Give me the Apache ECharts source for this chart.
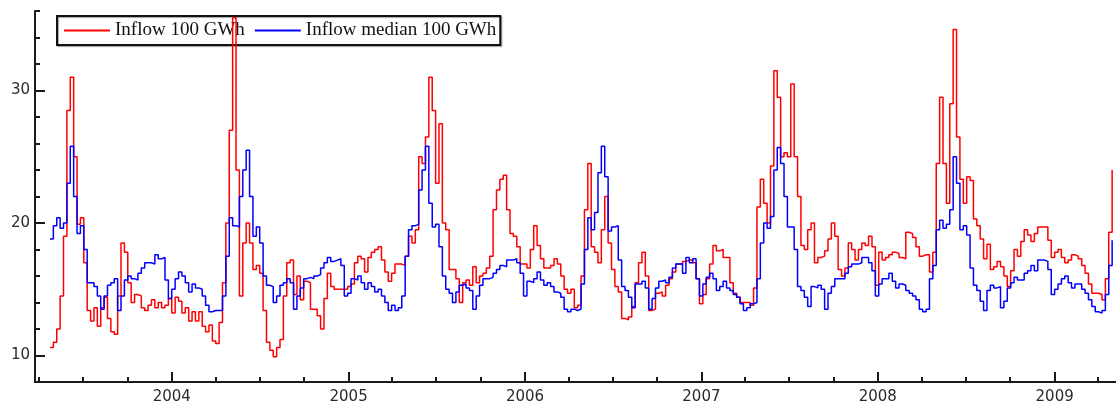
<!DOCTYPE html>
<html>
<head>
<meta charset="utf-8">
<script src="https://cdn.jsdelivr.net/npm/echarts@6/dist/echarts.min.js"></script>
<style>
  html, body { margin: 0; padding: 0; background: #fff; }
  #chart { width: 1116px; height: 407px; }
</style>
</head>
<body>
<div id="chart"></div>
<script>
// Weekly reservoir inflow, in units of 100 GWh, first week starting below
const firstWeek = '2003-04-24';

const inflow = [
  10.6, 11.0, 12.0, 14.5, 19.0, 28.5, 31.0, 25.0, 19.9, 20.4,
  17.0, 13.4, 12.6, 13.6, 12.2, 13.6, 14.4, 12.8, 11.8, 11.6,
  14.5, 18.5, 17.8, 15.5, 14.0, 14.6, 14.5, 13.6, 13.4, 13.8,
  14.2, 13.6, 14.0, 13.6, 13.8, 14.3, 13.2, 14.4, 14.1, 13.2,
  13.6, 12.6, 13.3, 12.6, 13.3, 12.2, 11.8, 12.3, 11.1,
  10.9, 12.5, 15.5, 20.0, 27.0, 35.5, 24.0, 14.5, 18.5, 20.0, 18.5,
  16.5, 16.8, 16.2, 13.4, 11.0, 10.4, 9.9, 10.6, 11.2, 14.5,
  17.0, 17.2, 14.6, 16.0, 14.2, 15.6, 15.5, 13.5, 13.5, 13.0,
  12.0, 14.3, 16.2, 15.2, 15.0, 15.0, 15.0, 15.0, 15.2, 15.4,
  17.0, 17.5, 17.3, 16.3, 17.4, 17.8, 18.0, 18.2, 17.2, 16.3,
  15.6, 16.2, 16.9, 16.9, 16.8, 17.5, 19.0, 18.5, 19.5, 25.0,
  24.5, 26.5, 31.0, 28.5, 23.0, 27.5, 20.0, 19.5, 16.5, 16.5,
  15.8, 14.0, 15.5, 15.7, 15.3, 16.7, 15.5, 16.0, 16.2, 16.6,
  17.5, 21.0, 22.5, 23.3, 23.6, 21.0, 19.2, 19.0, 18.2, 16.9,
  16.9, 16.6, 18.0, 19.8, 18.3, 17.3, 16.6, 16.6, 16.8, 17.3,
  16.9, 16.0, 15.0, 14.7, 15.0, 13.6, 13.8, 16.0, 21.0, 24.5,
  18.2, 17.8, 17.0, 19.5, 22.0, 18.5, 16.5, 15.2, 14.8, 12.8,
  12.7, 12.9, 13.7, 15.5, 17.0, 17.8, 16.0, 13.4, 13.5, 14.7,
  14.8, 14.5, 15.3, 15.8, 16.3, 16.9, 16.9, 17.1, 17.2, 17.2,
  17.0, 15.8, 13.9, 14.6, 15.8, 16.9, 18.3, 17.9, 18.0, 17.4,
  17.4, 15.5, 14.7, 14.4, 14.0, 14.0, 14.0, 13.8, 15.1, 21.2,
  23.3, 21.5, 20.0, 24.3, 31.5, 29.5, 25.0, 25.3, 25.0, 30.5,
  25.0, 22.0, 18.3, 18.0, 19.5, 20.0, 17.0, 17.4, 17.5, 17.9,
  18.8, 20.0, 19.0, 16.5, 16.0, 16.6, 18.5, 18.0, 17.2, 18.0,
  18.5, 18.3, 19.0, 18.2, 15.3, 17.8, 17.2, 17.4, 17.6, 17.8,
  17.7, 17.4, 17.3, 19.3, 19.2, 18.9, 18.2, 17.5, 17.6, 17.6,
  16.3, 17.8, 24.5, 29.5, 24.5, 21.5, 29.0, 34.6, 26.5, 23.3,
  21.5, 23.5, 23.2, 20.3, 19.8, 18.8, 17.3, 18.4, 16.5, 16.7,
  17.1, 16.7, 16.0, 15.2, 16.4, 18.0, 17.5, 18.6, 19.5, 19.1,
  18.6, 19.2, 19.7, 19.7, 19.7, 18.7, 17.4, 17.8, 18.0, 17.4,
  17.0, 17.2, 17.6, 17.5, 17.3, 16.8, 16.2, 15.4, 14.7, 14.7,
  14.6, 14.2, 15.8, 19.3, 24.0
];

const inflowMedian = [
  18.8, 19.8, 20.4, 19.6, 20.0, 23.0, 25.8, 22.0, 19.2, 19.8,
  18.0, 15.5, 15.5, 15.2, 14.5, 13.5, 14.5, 15.3, 15.5, 15.8,
  13.4, 14.5, 15.7, 16.0, 15.8, 15.7, 16.2, 16.6, 17.0, 17.0,
  16.9, 17.6, 17.3, 17.4, 15.7, 14.3, 15.0, 15.8, 16.3, 16.0,
  15.5, 14.8, 15.4, 15.1, 15.0, 14.5, 13.8, 13.3, 13.4,
  13.4, 13.4, 14.5, 17.5, 20.4, 19.8, 19.7, 22.0, 24.0, 25.5, 22.0,
  19.0, 19.7, 18.5, 16.0, 15.3, 15.2, 14.0, 14.5, 15.3, 15.5,
  15.8, 15.5, 13.5, 14.5, 15.1, 15.8, 15.9, 15.8, 16.0, 16.1,
  16.6, 17.0, 17.4, 17.1, 17.2, 17.3, 16.8, 14.5, 14.7, 15.8,
  15.7, 16.0, 15.5, 15.0, 15.5, 15.2, 14.8, 15.0, 14.5, 14.0,
  13.4, 13.8, 13.4, 13.6, 14.5, 17.5, 19.5, 19.8, 19.9, 22.5,
  24.0, 25.8, 21.5, 19.7, 19.9, 18.2, 16.0, 15.0, 14.7, 14.0,
  14.8, 15.3, 15.4, 15.1, 14.9, 13.5, 14.5, 15.3, 15.8, 15.8,
  15.9, 16.2, 16.5, 16.8, 16.7, 17.2, 17.2, 17.3, 17.0, 16.2,
  14.5, 15.6, 15.5, 15.8, 16.3, 15.7, 15.3, 15.5, 15.2, 14.8,
  14.7, 14.4, 13.5, 13.3, 13.5, 13.4, 13.5, 15.4, 18.0, 20.4,
  19.5, 20.8, 23.8, 25.8, 23.5, 19.4, 19.7, 19.8, 17.2, 15.2,
  14.9, 14.4, 13.6, 15.4, 15.4, 15.6, 15.1, 13.5, 14.3, 15.1,
  15.6, 15.7, 15.5, 15.9, 16.6, 16.9, 16.9, 16.2, 17.4, 17.0,
  17.3, 15.8, 14.5, 15.4, 15.9, 16.2, 15.8, 14.9, 15.2, 15.6,
  15.1, 14.9, 14.6, 14.4, 13.9, 13.4, 13.6, 13.9, 14.0, 15.8,
  18.5, 20.0, 19.6, 20.5, 24.0, 25.7, 24.5, 22.0, 19.7, 19.7,
  18.0, 15.2, 14.9, 14.4, 13.7, 15.2, 15.1, 15.3, 15.0, 13.5,
  14.7, 15.2, 15.8, 15.8, 15.8, 16.2, 16.7, 16.9, 16.9, 17.0,
  17.4, 17.4, 17.0, 16.4, 14.5, 15.4, 15.8, 15.8, 16.2, 15.6,
  15.1, 15.4, 15.3, 14.9, 14.7, 14.5, 14.2, 13.5, 13.3, 13.5,
  15.8, 16.8, 19.5, 20.2, 19.6, 19.9, 21.0, 25.0, 23.0, 19.5,
  19.8, 19.1, 16.6, 15.3, 14.9, 14.1, 13.4, 14.9, 15.3, 15.1,
  15.2, 13.6, 14.1, 15.1, 15.5, 15.9, 15.7, 15.7, 16.2, 16.4,
  16.8, 16.4, 17.2, 17.2, 17.1, 16.5, 14.6, 15.0, 15.4, 15.8,
  16.0, 15.5, 15.1, 15.4, 15.4, 15.0, 14.7, 14.2, 13.7, 13.3,
  13.2, 13.4, 14.6, 16.8, 18.7
];

const seriesNames = ['Inflow 100 GWh', 'Inflow median 100 GWh'];
const yearLabels = ['2004', '2005', '2006', '2007', '2008', '2009'];
const valueLabels = [10, 20, 30];

const DAY = 86400000;
const t0 = Date.parse(firstWeek + 'T00:00:00Z');
const weekStarts = inflow.map((_, i) => t0 + i * 7 * DAY);

// x axis runs on millisecond timestamps (UTC)
const xMin = Date.UTC(2003, 2, 24);
const xMax = Date.UTC(2009, 4, 8);
const yearTicks = yearLabels.map(y => Date.UTC(+y, 0, 1));
const quarterTicks = [];
for (let y = 2003; y <= 2009; y++) {
  for (let q = 0; q < 4; q++) {
    const t = Date.UTC(y, q * 3, 1);
    if (t >= xMin && t <= xMax) quarterTicks.push(t);
  }
}

const axisColor = '#1a1a1a';
const labelFont = { fontFamily: 'DejaVu Sans', fontSize: 15, color: '#2a2a2a' };

const chart = echarts.init(document.getElementById('chart'), null, { renderer: 'canvas' });
chart.setOption({
  animation: false,
  backgroundColor: '#fff',
  grid: { left: 35, right: 0, top: 11, bottom: 25 },
  legend: {
    z: 1,
    left: 57,
    top: 16,
    padding: [5, 4, 5, 7],
    itemGap: 10,
    itemWidth: 46,
    itemHeight: 2,
    icon: 'rect',
    backgroundColor: '#fff',
    borderColor: '#111',
    borderWidth: 2,
    shadowColor: 'rgba(0,0,0,0.35)',
    shadowOffsetX: 1,
    shadowOffsetY: 1,
    shadowBlur: 1,
    textStyle: { fontFamily: 'Liberation Serif', fontSize: 19, color: '#111' },
    data: seriesNames
  },
  xAxis: [
    {
      type: 'value',
      min: xMin,
      max: xMax,
      axisLine: { show: true, lineStyle: { color: axisColor, width: 2 } },
      axisTick: { show: true, inside: true, length: 10, customValues: yearTicks, lineStyle: { color: axisColor, width: 2 } },
      axisLabel: {
        show: true,
        customValues: yearTicks,
        margin: 8,
        formatter: v => String(new Date(v).getUTCFullYear()),
        ...labelFont
      },
      splitLine: { show: false }
    },
    {
      type: 'value',
      min: xMin,
      max: xMax,
      position: 'bottom',
      offset: 0,
      axisLine: { show: false },
      axisTick: { show: true, inside: true, length: 5, customValues: quarterTicks, lineStyle: { color: axisColor, width: 2 } },
      axisLabel: { show: false },
      splitLine: { show: false }
    }
  ],
  yAxis: [
    {
      type: 'value',
      min: 8,
      max: 36,
      axisLine: { show: true, lineStyle: { color: axisColor, width: 2 } },
      axisTick: { show: true, inside: true, length: 10, customValues: valueLabels, lineStyle: { color: axisColor, width: 2 } },
      axisLabel: { show: true, customValues: valueLabels, margin: 5, ...labelFont },
      splitLine: { show: false }
    },
    {
      type: 'value',
      min: 8,
      max: 36,
      interval: 2,
      position: 'left',
      offset: 0,
      axisLine: { show: false },
      axisTick: { show: true, inside: true, length: 5, lineStyle: { color: axisColor, width: 2 } },
      axisLabel: { show: false },
      splitLine: { show: false }
    }
  ],
  series: [
    {
      name: seriesNames[0],
      type: 'line',
      step: 'end',
      showSymbol: false,
      color: '#ff0000',
      lineStyle: { color: '#ff0000', width: 1.5 },
      data: weekStarts.map((t, i) => [t, inflow[i]])
    },
    {
      name: seriesNames[1],
      type: 'line',
      step: 'end',
      showSymbol: false,
      color: '#0000ff',
      lineStyle: { color: '#0000ff', width: 1.5 },
      data: weekStarts.map((t, i) => [t, inflowMedian[i]])
    }
  ]
});
</script>
</body>
</html>
